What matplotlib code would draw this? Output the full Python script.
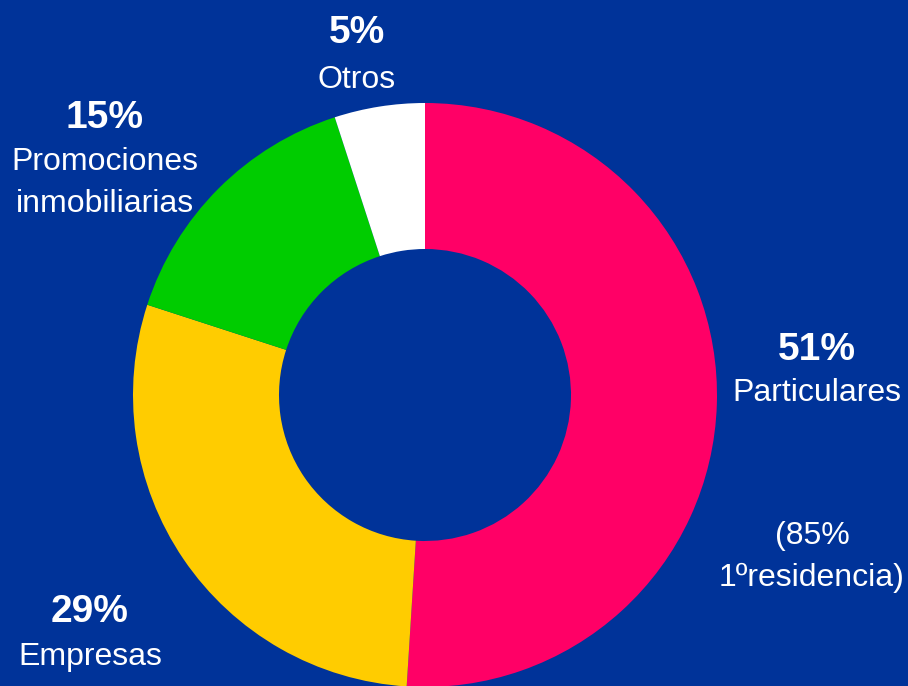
import matplotlib.pyplot as plt

# Data
labels = ["Particulares", "Empresas", "Promociones\ninmobiliarias", "Otros"]
shares = [51, 29, 15, 5]
pct_labels = ["51%", "29%", "15%", "5%"]
colors = ["#FF0066", "#FFCC00", "#00CC00", "#FFFFFF"]
note = "(85%\n1ºresidencia)"

bg = "#003399"
plt.rcParams["font.family"] = ["Liberation Sans", "DejaVu Sans"]

fig = plt.figure(figsize=(9.08, 6.86), dpi=100, facecolor=bg)
ax = fig.add_axes([0, 0, 1, 1])
ax.set_facecolor(bg)

# Donut, pixel coordinates (y measured from bottom)
ax.pie(shares, colors=colors, startangle=90, counterclock=False,
       center=(425, 291), radius=292,
       wedgeprops=dict(width=146, linewidth=0))

ax.set_xlim(0, 908)
ax.set_ylim(0, 686)
ax.set_aspect("equal")
ax.axis("off")

# Label positions (pixels from top)
pct_pos = [(817, 350), (90, 612), (105, 118), (357, 33)]
name_pos = [(817, 393), (90, 657), (105, 183), (357, 80)]

for p, n, (px, py), (nx, ny) in zip(pct_labels, labels, pct_pos, name_pos):
    ax.text(px, 686 - py, p, color="white", fontsize=28, fontweight="bold",
            ha="center", va="center")
    ax.text(nx, 686 - ny, n, color="white", fontsize=23,
            ha="center", va="center", linespacing=1.5)

ax.text(812, 686 - 557, note, color="white", fontsize=23,
        ha="center", va="center", linespacing=1.5)

plt.savefig("out.png", dpi=100, facecolor=bg)
